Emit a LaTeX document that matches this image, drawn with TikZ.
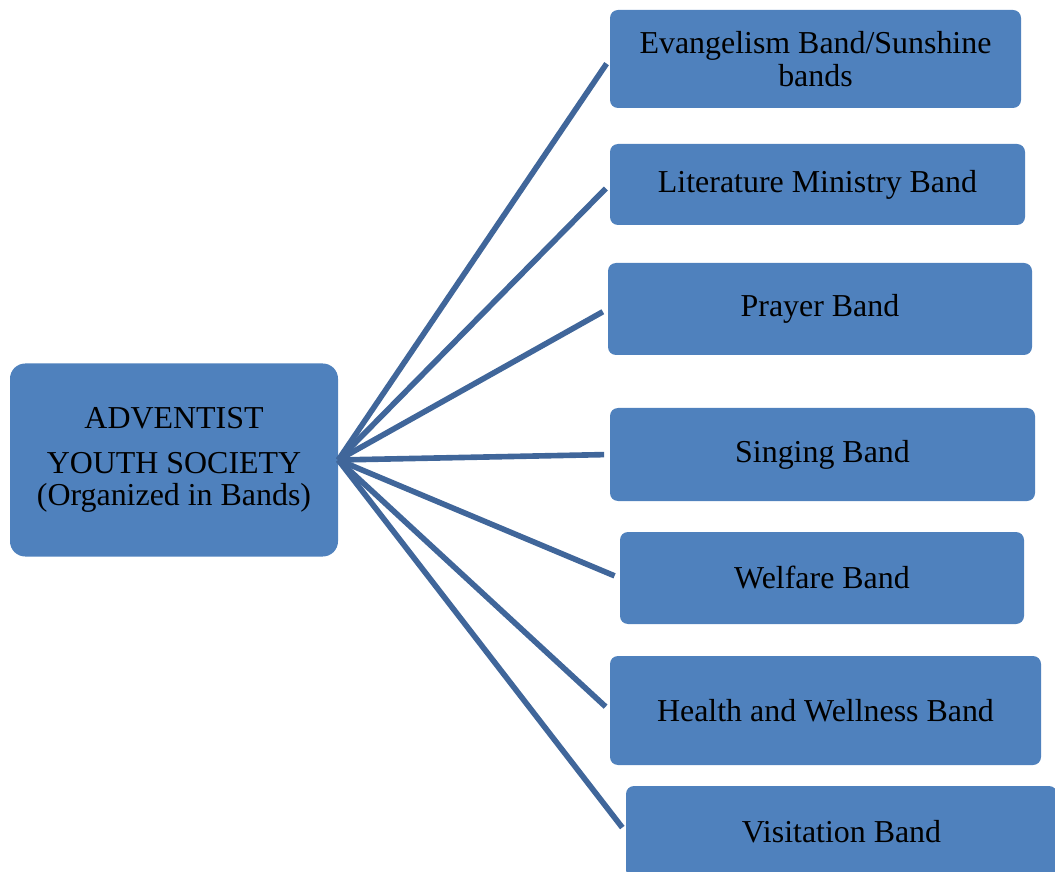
\documentclass[tikz,border=0pt]{standalone}
\usepackage{fontspec}
\setmainfont{Liberation Serif}
\definecolor{bandblue}{RGB}{79,129,189}
\definecolor{linkblue}{RGB}{64,102,154}

\begin{document}
\begin{tikzpicture}[scale=1.0]
  \tikzset{
    link/.style={draw=linkblue,line width=4pt,shorten >=0.14cm},
    band/.style={fill=bandblue,rounded corners=0.2cm,inner sep=0pt,
      align=center,font=\fontsize{22.7}{23.4}\selectfont},
    hub/.style={band,rounded corners=0.38cm}
  }
  \clip (0,0) rectangle (26.375,-21.8);

  \node[hub,minimum width=8.2cm,minimum height=4.825cm] (ays) at (4.35,-11.5)
    {ADVENTIST\\[8.5pt]YOUTH SOCIETY\\(Organized in Bands)};

  \node[band,minimum width=10.275cm,minimum height=2.45cm] (evangelism)
    at (20.3875,-1.475) {Evangelism Band/Sunshine\\bands};
  \node[band,minimum width=10.375cm,minimum height=2.025cm] (literature)
    at (20.4375,-4.6125) {Literature Ministry Band};
  \node[band,minimum width=10.6cm,minimum height=2.3cm] (prayer)
    at (20.5,-7.725) {Prayer Band};
  \node[band,minimum width=10.625cm,minimum height=2.325cm] (singing)
    at (20.5625,-11.3625) {Singing Band};
  \node[band,minimum width=10.1cm,minimum height=2.3cm] (welfare)
    at (20.55,-14.45) {Welfare Band};
  \node[band,minimum width=10.775cm,minimum height=2.725cm] (health)
    at (20.6375,-17.7625) {Health and Wellness Band};
  \node[band,minimum width=10.775cm,minimum height=2.3cm] (visitation)
    at (21.0375,-20.8) {Visitation Band};

  \foreach \b in {evangelism,literature,prayer,singing,welfare,health,visitation}
    \draw[link] (ays.east) -- (\b.west);
\end{tikzpicture}
\end{document}
